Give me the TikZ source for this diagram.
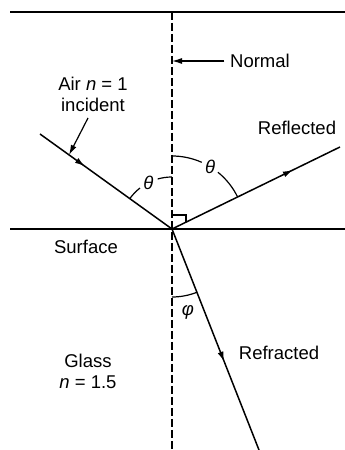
\documentclass[tikz,border=0pt]{standalone}
\usepackage{fontspec}
\setmainfont{Liberation Sans}
\usetikzlibrary{arrows.meta,calc,decorations.markings}

\begin{document}
\begin{tikzpicture}[x=1pt,y=1pt,>={Latex[length=10pt,width=6pt]},
    font=\fontsize{18.5}{21}\selectfont,line width=1.5pt,
    ray/.style={line width=1.5pt},
    midarrow/.style={postaction={decorate},
      decoration={markings,mark=at position #1 with {\arrow{>}}}},
    lbl/.style={inner sep=0pt,align=center}]
  \useasboundingbox (0,0) rectangle (345,450);
  \def\Ox{172}  % point of incidence
  \def\Oy{221}
  \def\Ri{52}   % radius of theta arc, incident side
  \def\Rr{73}   % radius of theta arc, reflected side
  \def\Rf{68}   % radius of phi arc
  % points
  \coordinate (O)    at (\Ox,\Oy);
  \coordinate (ntop) at (\Ox,438);
  \coordinate (nbot) at (\Ox,0);
  \coordinate (inc)  at (40,316);
  \coordinate (refl) at (340,303);
  \coordinate (refr) at (259,0);
  % top edge and surface
  \draw[line width=2pt] (10,438) -- (345,438);
  \draw[line width=2pt] (10,\Oy) -- (345,\Oy);
  % normal
  \draw[line width=1.2pt,dash pattern=on 8pt off 3pt] (ntop) -- (nbot);
  % rays
  \draw[ray,midarrow=0.34] (inc) -- (O);
  \draw[ray,midarrow=0.72] (O) -- (refl);
  \draw[ray,midarrow=0.6] (O) -- (refr);
  % right angle mark
  \draw[line width=1.2pt] ($(O)+(0,14)$) -- ($(O)+(14,14)$) -- ($(O)+(14,6.8)$);
  % angle arcs
  \draw[line width=1.2pt] ($(O)+(90:\Ri)$) arc[start angle=90,end angle=106,radius=\Ri];
  \draw[line width=1.2pt] ($(O)+(128:\Ri)$) arc[start angle=128,end angle=144.3,radius=\Ri];
  \node[lbl] (th1) at ($(O)+(117:\Ri)$) {\itshape θ};
  \draw[line width=1.2pt] ($(O)+(90:\Rr)$) arc[start angle=90,end angle=66,radius=\Rr];
  \draw[line width=1.2pt] ($(O)+(51:\Rr)$) arc[start angle=51,end angle=26,radius=\Rr];
  \node[lbl] (th2) at ($(O)+(58.5:\Rr)$) {\itshape θ};
  \draw[line width=1.2pt] ($(O)+(270:\Rf)$) arc[start angle=270,end angle=291.5,radius=\Rf];
  \node[lbl] (phi) at ($(O)+(280.8:85)$) {\itshape φ};
  % labels
  \node[lbl] (normal) at (260,389) {Normal};
  \draw[->,line width=1.2pt] (normal.west) ++(-5pt,0) -- (normal.west -| O);
  \node[lbl] (air) at (93,356) {Air \textit{n} = 1\\incident};
  \draw[->,line width=1.2pt] (88,332) -- ($(inc)!0.22!(O)$);
  \node[lbl] (reflected) at (297,322) {Reflected};
  \node[lbl] (surface) at (86,203) {Surface};
  \node[lbl] (refracted) at (279,97) {Refracted};
  \node[lbl] (glass) at (88,79) {Glass\\\textit{n} = 1.5};
\end{tikzpicture}
\end{document}
